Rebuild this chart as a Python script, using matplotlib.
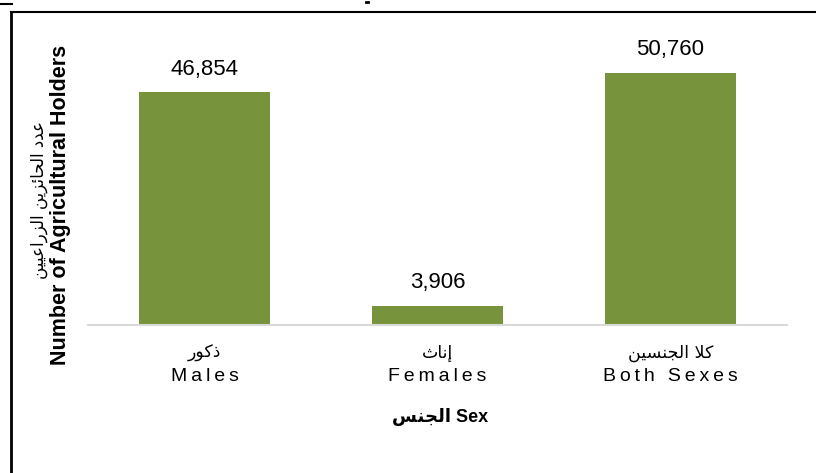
import matplotlib
matplotlib.use("Agg")
import matplotlib.pyplot as plt
from matplotlib.lines import Line2D

# Data
categories_en = ["Males", "Females", "Both Sexes"]
# Arabic labels in visual order (presentation forms) since matplotlib does not shape Arabic
categories_ar = ["\uFEAD\uFEEE\uFEDB\uFEAB",
                 "\uFE99\uFE8E\uFEE7\uFE87",
                 "\uFEE6\uFEF4\uFEB4\uFEE8\uFEA0\uFEDF\uFE8D \uFEFC\uFEDB"]
values = [46854, 3906, 50760]
ylabel_ar = ("\uFEE6\uFEF4\uFEF4\uFECB\uFE8D\uFEAD\uFEB0\uFEDF\uFE8D "
             "\uFEE6\uFEF3\uFEB0\uFE8B\uFE8E\uFEA4\uFEDF\uFE8D "
             "\uFEA9\uFEAA\uFECB")
ylabel_en = "Number of Agricultural Holders"
xlabel_ar = "\uFEB2\uFEE8\uFEA0\uFEDF\uFE8D"
xlabel_en = "Sex"

FAM = ["Liberation Sans", "DejaVu Sans"]
plt.rcParams['font.family'] = FAM

W, H = 816, 473
fig = plt.figure(figsize=(W / 100, H / 100), dpi=100)
ax = fig.add_axes([88 / W, (H - 325) / H, (787 - 88) / W, (325 - 27) / H])

x = list(range(len(values)))
ax.bar(x, values, width=0.563, color="#77933C", zorder=2)
ax.set_xlim(-0.5, 2.5)
ax.set_ylim(0, 60000)
for s in ["top", "right", "left"]:
    ax.spines[s].set_visible(False)
ax.spines["bottom"].set_color("#D9D9D9")
ax.spines["bottom"].set_linewidth(1.5)
ax.set_yticks([])
ax.set_xticks(x)
ax.set_xticklabels([])
ax.tick_params(axis="x", length=0)

for xi, v in zip(x, values):
    ax.annotate(f"{v:,}", (xi, v), xytext=(0, 9), textcoords="offset points",
                ha="center", va="bottom", fontsize=16, color="#000000")

def spaced(s):
    return "\u2009".join(s)

for xi, ar, en in zip(x, categories_ar, categories_en):
    ax.annotate(ar, (xi, 0), xycoords=("data", "axes fraction"),
                xytext=(0, -14), textcoords="offset points",
                ha="center", va="top", fontsize=12.5, family=["DejaVu Sans"])
    ax.annotate(spaced(en), (xi, 0), xycoords=("data", "axes fraction"),
                xytext=(0, -31), textcoords="offset points",
                ha="center", va="top", fontsize=14)

# x-axis title
fig.text(440 / W, 1 - 417 / H, xlabel_ar + " " + xlabel_en, ha="center", va="center",
         fontsize=13, fontweight="bold", family=FAM)

# y-axis title (two lines)
fig.text(39 / W, 1 - 200 / H, ylabel_ar, rotation=90, ha="center", va="center",
         fontsize=12, family=["DejaVu Sans"])
fig.text(61 / W, 1 - 205 / H, ylabel_en, rotation=90, ha="center", va="center",
         fontsize=15.5, fontweight="bold", family=FAM)

# chart border (left and top)
fig.add_artist(Line2D([11 / W, 11 / W], [0, 1 - 12 / H], transform=fig.transFigure,
                      color="black", linewidth=2))
fig.add_artist(Line2D([11 / W, 1], [1 - 12 / H, 1 - 12 / H], transform=fig.transFigure,
                      color="black", linewidth=1.5))
fig.add_artist(Line2D([0, 12 / W], [1 - 4 / H, 1 - 4 / H], transform=fig.transFigure,
                      color="black", linewidth=1.5))
fig.add_artist(Line2D([366 / W, 368 / W], [1 - 2 / H, 1 - 2 / H], transform=fig.transFigure,
                      color="black", linewidth=2))

fig.savefig("out.png", dpi=100)
